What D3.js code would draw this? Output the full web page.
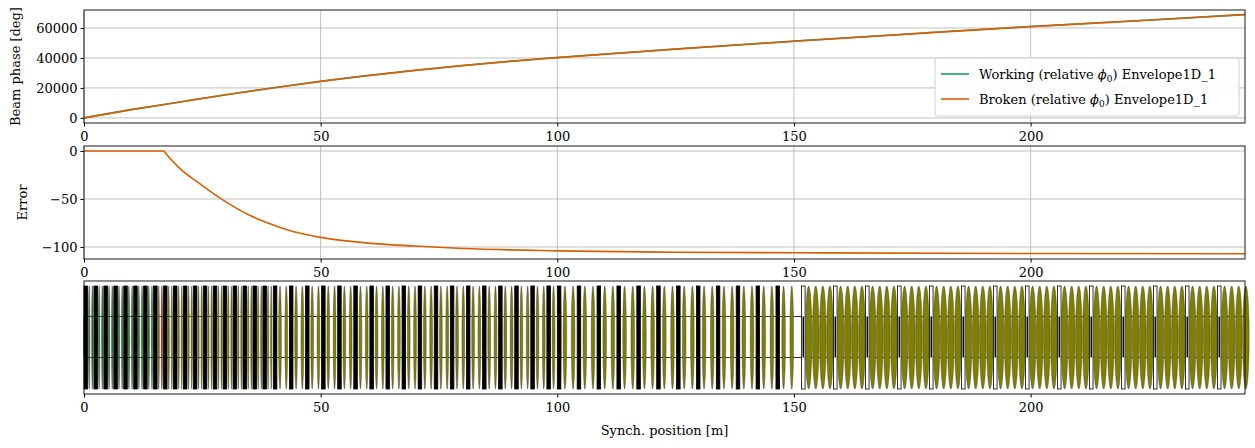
<!DOCTYPE html>
<html><head><meta charset="utf-8">
<script src="https://cdn.jsdelivr.net/npm/d3@7"></script>
<style>
body{margin:0;background:#fff;font-family:"DejaVu Serif",serif;}
text{font-family:"DejaVu Serif",serif;}
</style></head><body>
<div id="chart"></div>
<script>
// Beam phase (both runs overlap)
const phasePos = [0, 10, 20, 30, 40, 50, 60, 70, 80, 90, 100, 125, 150, 175, 200, 225, 245.3];
const phaseWorking = [0, 5500, 10500, 15500, 20100, 24500, 28300, 31800, 35000, 37800, 40300, 46000, 51200, 56200, 61000, 65300, 69000];
const phaseBroken = [0, 5500, 10500, 15500, 20000, 24400, 28200, 31700, 34900, 37700, 40200, 45900, 51100, 56100, 60900, 65200, 68900];

// Error between runs
const errPos = [0, 10, 16.8, 17.5, 20, 25, 30, 35, 40, 45, 50, 60, 70, 80, 100, 125, 150, 200, 245.3];
const errVal = [0, 0, 0, -4, -17, -36, -53, -67, -77, -85, -90, -96, -99, -101.5, -104, -105.5, -106, -106.8, -107];

// Lattice sections: start, end [m], cell length [m], cavities per cell
const secStart = [0, 40, 100, 151.6];
const secEnd = [40, 100, 151.6, 245.3];
const secCell = [2.1, 3.4, 4.2, 6.76];
const secCav = [2, 2, 2, 4];
const greenUntil = 15.5;   // first cavities (green)
const brokenCavity = 16.9; // failed cavity (red)

const W = 1255, H = 448;
const left = 84, right = 1245;
const panels = [{top: 10, bottom: 123}, {top: 146, bottom: 259}, {top: 281, bottom: 394}];

const svg = d3.select("#chart").append("svg").attr("width", W).attr("height", H);

const x = d3.scaleLinear().domain([0, 245.3]).range([left, right]);
const dx = v => x(v) - x(0);

function frame(p, y) {
  const g = svg.append("g");
  g.append("g").attr("transform", `translate(0,${p.bottom})`)
    .call(d3.axisBottom(x).tickValues([0, 50, 100, 150, 200]).tickSize(3.5).tickSizeOuter(0))
    .call(a => a.selectAll("text").style("font-size", "13px").attr("dy", "0.9em"));
  if (y) {
    g.append("g").attr("transform", `translate(${left},0)`)
      .call(d3.axisLeft(y.scale).tickValues(y.ticks).tickFormat(d3.format("d")).tickSize(3.5).tickSizeOuter(0))
      .call(a => a.selectAll("text").style("font-size", "13px"));
    const grid = g.append("g").attr("stroke", "#b0b0b0").attr("stroke-width", 0.8);
    y.ticks.forEach(t => grid.append("line").attr("x1", left).attr("x2", right).attr("y1", y.scale(t)).attr("y2", y.scale(t)));
    [0, 50, 100, 150, 200].forEach(t => grid.append("line").attr("x1", x(t)).attr("x2", x(t)).attr("y1", p.top).attr("y2", p.bottom));
  }
  g.selectAll(".domain").remove();
  return g;
}
function border(p) {
  svg.append("rect").attr("x", left).attr("y", p.top).attr("width", right - left).attr("height", p.bottom - p.top)
    .attr("fill", "none").attr("stroke", "#000").attr("stroke-width", 0.9);
}

// Panel 1
const y1 = d3.scaleLinear().domain([-3400, 72000]).range([panels[0].bottom, panels[0].top]);
frame(panels[0], {scale: y1, ticks: [0, 20000, 40000, 60000]});
const line1 = d3.line().x((d, i) => x(phasePos[i])).y(d => y1(d)).curve(d3.curveMonotoneX);
svg.append("path").attr("d", line1(phaseWorking)).attr("fill", "none").attr("stroke", "#1b9e77").attr("stroke-width", 1.6);
svg.append("path").attr("d", line1(phaseBroken)).attr("fill", "none").attr("stroke", "#d95f02").attr("stroke-width", 1.6);
border(panels[0]);
svg.append("text").attr("transform", `translate(20,${(panels[0].top + panels[0].bottom) / 2}) rotate(-90)`)
  .attr("text-anchor", "middle").style("font-size", "13px").text("Beam phase [deg]");

// Legend
const lg = svg.append("g").attr("transform", "translate(935,58)");
lg.append("rect").attr("width", 304).attr("height", 58).attr("rx", 3).attr("fill", "#fff").attr("fill-opacity", 0.85).attr("stroke", "#d0d0d0");
[["Working", "#1b9e77"], ["Broken", "#d95f02"]].forEach(([name, c], i) => {
  const yy = 16 + i * 25;
  lg.append("line").attr("x1", 6).attr("x2", 34).attr("y1", yy).attr("y2", yy).attr("stroke", c).attr("stroke-width", 1.6);
  const t = lg.append("text").attr("x", 44).attr("y", yy + 5).style("font-size", "13px");
  t.append("tspan").text(`${name} (relative `);
  t.append("tspan").style("font-style", "italic").text("ϕ");
  t.append("tspan").attr("dy", 3).style("font-size", "9px").text("0");
  t.append("tspan").attr("dy", -3).text(") Envelope1D_1");
});

// Panel 2
const y2 = d3.scaleLinear().domain([-112.5, 5.2]).range([panels[1].bottom, panels[1].top]);
frame(panels[1], {scale: y2, ticks: [0, -50, -100]});
const line2 = d3.line().x((d, i) => x(errPos[i])).y(d => y2(d)).curve(d3.curveMonotoneX);
svg.append("path").attr("d", line2(errVal)).attr("fill", "none").attr("stroke", "#d95f02").attr("stroke-width", 1.6);
border(panels[1]);
svg.append("text").attr("transform", `translate(27,${(panels[1].top + panels[1].bottom) / 2}) rotate(-90)`)
  .attr("text-anchor", "middle").style("font-size", "13px").text("Error");

// Panel 3: lattice
const p3 = panels[2];
frame(p3, null);
const ymid = (p3.top + p3.bottom) / 2;
const lat = svg.append("g");
lat.append("rect").attr("x", left).attr("y", ymid - 21).attr("width", right - left).attr("height", 41)
  .attr("fill", "none").attr("stroke", "#000").attr("stroke-width", 0.8);
const elTop = p3.top + 5, elBot = p3.bottom - 5;
secStart.forEach((s0, k) => {
  const cell = secCell[k], nc = secCav[k];
  const qw = k === 3 ? 0.75 : 0.75;
  for (let s = s0; s + cell * 0.5 < secEnd[k]; s += cell) {
    lat.append("rect").attr("x", x(s)).attr("y", elTop).attr("width", dx(qw)).attr("height", elBot - elTop)
      .attr("fill", k === 3 ? "#fff" : "#000").attr("stroke", "#000").attr("stroke-width", 0.8);
    if (k === 3) lat.append("rect").attr("x", x(s + 0.22)).attr("y", ymid - 21).attr("width", dx(0.3)).attr("height", 41).attr("fill", "#000");
    const span = cell - qw;
    for (let j = 0; j < nc; j++) {
      const c = s + qw + span * (j + 0.5) / nc;
      const rw = dx(span / nc) * (k === 3 ? 0.46 : 0.22);
      let col = "#808000";
      if (c < greenUntil) col = "#1a7a1a";
      if (Math.abs(c - brokenCavity) < 0.6) col = "#e00000";
      lat.append("ellipse").attr("cx", x(c)).attr("cy", ymid).attr("rx", rw).attr("ry", (elBot - elTop) / 2)
        .attr("fill", col).attr("stroke", "#333").attr("stroke-width", 0.4);
    }
  }
});
border(p3);
svg.append("text").attr("x", (left + right) / 2).attr("y", 435).attr("text-anchor", "middle").style("font-size", "13px").text("Synch. position [m]");
</script>
</body></html>
